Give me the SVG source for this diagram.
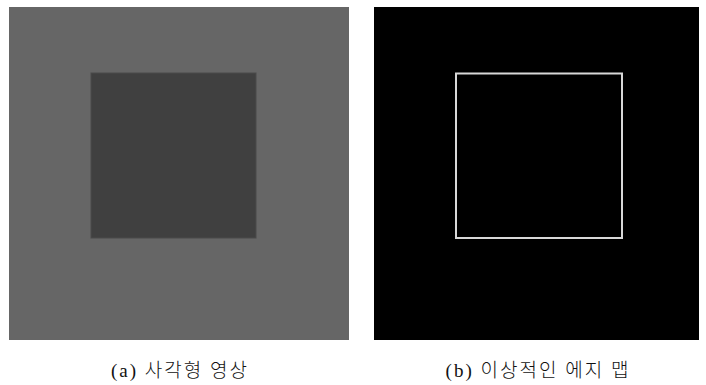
<svg xmlns="http://www.w3.org/2000/svg" width="706" height="385" viewBox="0 0 706 385">
<style>
.cap{font-family:"Liberation Serif","Noto Sans CJK KR",serif;font-size:19px;fill:#111;text-anchor:middle;letter-spacing:2px;font-weight:300}
</style>
<rect width="706" height="385" fill="#ffffff"/>
<g id="panel-a">
<rect x="9" y="7" width="340" height="333" fill="#666666"/>
<rect x="91" y="73" width="165" height="165" fill="#404040" stroke="#4a4a4a" stroke-width="1"/>
</g>
<g id="panel-b">
<rect x="374" y="7" width="325" height="333" fill="#000000"/>
<rect x="456" y="73.5" width="166" height="164.5" fill="none" stroke="#d8d8d8" stroke-width="2"/>
</g>
<text class="cap" x="180" y="377">(a) 사각형 영상</text>
<text class="cap" x="538" y="377">(b) 이상적인 에지 맵</text>
</svg>
